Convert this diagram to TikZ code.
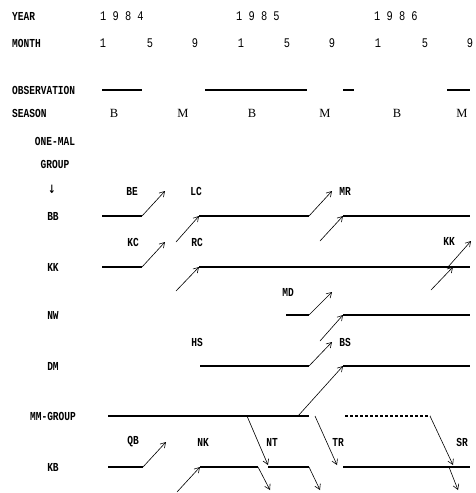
\documentclass[tikz,border=0pt]{standalone}
\usepackage{fontspec}
\usepackage{graphicx}
\setmainfont{Liberation Serif}
\newfontfamily\typefont{Liberation Mono}
\newfontfamily\arrowfont{DejaVu Sans}
\newcommand\tall[1]{\scalebox{0.9}[1.15]{#1}}
\usetikzlibrary{arrows.meta}
\tikzset{
  head/.style={font=\typefont\bfseries\fontsize{10.6}{12}\selectfont, inner sep=0pt},
  digits/.style={font=\typefont\fontsize{11.5}{13}\selectfont, inner sep=0pt},
  seas/.style={font=\fontsize{12.5}{14}\selectfont, inner sep=0pt},
  life/.style={line width=1.2pt},
  gone/.style={line width=1.2pt, dash pattern=on 3pt off 2pt},
  move/.style={-{Straight Barb[length=5pt, width=6pt]}, line width=0.6pt},
}

\begin{document}
\begin{tikzpicture}[x=1pt, y=-1pt]
\useasboundingbox (0,0) rectangle (475,493);

% time axis
\node[head, anchor=west] (year) at (12,16) {\tall{YEAR}};
\node[digits, anchor=west] (y84) at (100,16) {\tall{1 9 8 4}};
\node[digits, anchor=west] (y85) at (236,16) {\tall{1 9 8 5}};
\node[digits, anchor=west] (y86) at (374,16) {\tall{1 9 8 6}};
\node[head, anchor=west] (month) at (12,43) {\tall{MONTH}};
\foreach \x/\m [count=\i] in {103/1,150/5,195/9,241/1,287/5,332/9,378/1,425/5,470/9}
  \node[digits] (m\i) at (\x,43) {\tall{\m}};

\node[head, anchor=west] (obs) at (12,90) {\tall{OBSERVATION}};
\foreach \a/\b [count=\i] in {102/142,205/307,343/354,447/470}{
  \coordinate (oa\i) at (\a,90);
  \coordinate (ob\i) at (\b,90);
  \draw[life] (oa\i) -- (ob\i);
}
\node[head, anchor=west] (season) at (12,113) {\tall{SEASON}};
\foreach \x/\s [count=\i] in {114/B,183/M,252/B,325/M,397/B,462/M}
  \node[seas] (s\i) at (\x,113) {\s};

% groups
\node[head] (onemal) at (55,141) {\tall{ONE-MAL}};
\node[head] (group) at (55,164) {\tall{GROUP}};
\node[head] (down) at (52,189) {\arrowfont\fontsize{10}{12}\selectfont\tall{↓}};
\foreach \n/\t/\y in {bb/BB/216, kk/KK/267, nw/NW/315, dm/DM/366, mm/MM-GROUP/416, kb/KB/467}
  \node[head] (\n) at (53,\y) {\tall{\t}};

% males moving in and out
\foreach \n/\t/\x/\y in {be/BE/132/191, lc/LC/196/191, mr/MR/345/191,
    kc/KC/133/242, rc/RC/197/242, kkm/KK/449/241, md/MD/288/292,
    hs/HS/197/342, bs/BS/345/342, qb/QB/133/442, nk/NK/203/442,
    nt/NT/272/442, tr/TR/338/442, sr/SR/462/442}
  \node[head] (\n) at (\x,\y) {\tall{\t}};

% BB
\coordinate (bb1) at (102,216); \coordinate (bb2) at (142,216);
\coordinate (bb3) at (199,216); \coordinate (bb4) at (309,216);
\coordinate (bb5) at (343,216); \coordinate (bb6) at (470,216);
\draw[life] (bb1) -- (bb2) (bb3) -- (bb4) (bb5) -- (bb6);
\draw[move] (bb2) -- ++(23,-25);
\draw[move] (bb3) ++(-23,26) -- (bb3);
\draw[move] (bb4) -- ++(23,-25);
\draw[move] (bb5) ++(-23,25) -- (bb5);

% KK
\coordinate (kk1) at (102,267); \coordinate (kk2) at (142,267);
\coordinate (kk3) at (199,267); \coordinate (kk4) at (470,267);
\coordinate (kk5) at (448,267); \coordinate (kk6) at (453,267);
\draw[life] (kk1) -- (kk2) (kk3) -- (kk4);
\draw[move] (kk2) -- ++(23,-25);
\draw[move] (kk3) ++(-23,24) -- (kk3);
\draw[move] (kk5) -- ++(23,-26);
\draw[move] (kk6) ++(-22,23) -- (kk6);

% NW
\coordinate (nw1) at (286,315); \coordinate (nw2) at (309,315);
\coordinate (nw3) at (343,315); \coordinate (nw4) at (470,315);
\draw[life] (nw1) -- (nw2) (nw3) -- (nw4);
\draw[move] (nw2) -- ++(23,-23);
\draw[move] (nw3) ++(-23,26) -- (nw3);

% DM
\coordinate (dm1) at (200,366); \coordinate (dm2) at (309,366);
\coordinate (dm3) at (343,366); \coordinate (dm4) at (470,366);
\draw[life] (dm1) -- (dm2) (dm3) -- (dm4);
\draw[move] (dm2) -- ++(23,-24);
\coordinate (mmbs) at (298,416);
\draw[move] (mmbs) -- (dm3);

% MM-GROUP
\coordinate (mm1) at (108,416); \coordinate (mm2) at (309,416);
\coordinate (mmnt) at (247,416); \coordinate (mmtr) at (315,416);
\coordinate (mm3) at (345,416); \coordinate (mm4) at (430,416);
\draw[life] (mm1) -- (mm2);
\draw[gone] (mm3) -- (mm4);
\draw[move] (mmnt) -- ++(21,49);
\draw[move] (mmtr) -- ++(22,49);
\draw[move] (mm4) -- ++(23,49);

% KB
\coordinate (kb1) at (108,467); \coordinate (kb2) at (143,467);
\coordinate (kb3) at (200,467); \coordinate (kb4) at (258,467);
\coordinate (kb5) at (268,467); \coordinate (kb6) at (309,467);
\coordinate (kb7) at (343,467); \coordinate (kb8) at (470,467);
\coordinate (kb9) at (449,467);
\draw[life] (kb1) -- (kb2) (kb3) -- (kb4) (kb5) -- (kb6) (kb7) -- (kb8);
\draw[move] (kb2) -- ++(23,-25);
\draw[move] (kb3) ++(-23,25) -- (kb3);
\draw[move] (kb4) -- ++(12,23);
\draw[move] (kb6) -- ++(11,23);
\draw[move] (kb9) -- ++(9,23);

\end{tikzpicture}
\end{document}
